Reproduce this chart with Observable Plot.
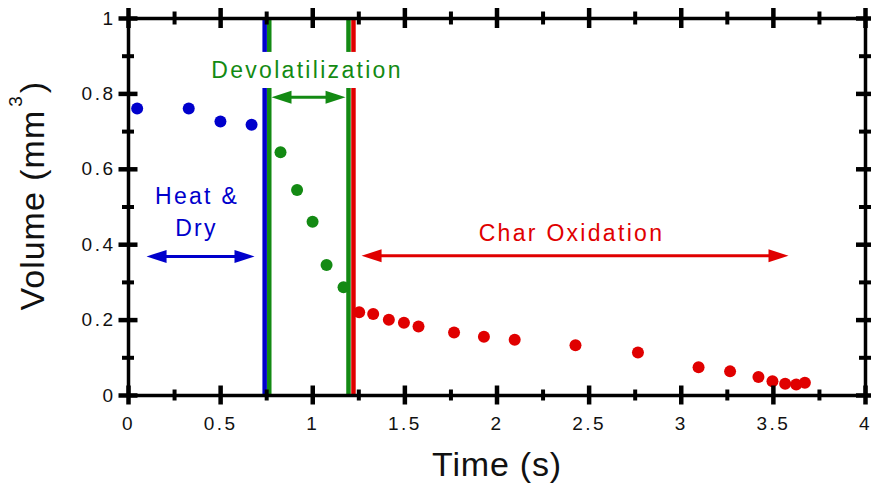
<!DOCTYPE html>
<html><head><meta charset="utf-8">
<script src="https://cdn.jsdelivr.net/npm/d3@7"></script>
<script src="https://cdn.jsdelivr.net/npm/@observablehq/plot@0.6"></script>
<style>body{margin:0;background:#fff} svg{display:block}</style>
</head><body><div id="chart"></div><script>
// ---- data ----
const heatTime = [0.047, 0.327, 0.499, 0.668];
const heatVol  = [0.761, 0.761, 0.727, 0.718];
const devolTime = [0.825, 0.915, 0.999, 1.075, 1.167];
const devolVol  = [0.645, 0.545, 0.461, 0.346, 0.287];
const charTime = [1.252, 1.328, 1.413, 1.495, 1.574, 1.767, 1.929, 2.096, 2.426, 2.765, 3.094, 3.265, 3.419, 3.495, 3.564, 3.624, 3.671];
const charVol  = [0.221, 0.216, 0.201, 0.193, 0.183, 0.167, 0.156, 0.148, 0.133, 0.114, 0.075, 0.064, 0.049, 0.038, 0.031, 0.029, 0.034];

const phaseColors = {heat: "#0000cc", devol: "#138a13", char: "#e00000"};
const boundaryX = [0.739, 0.764, 1.194, 1.221];
const boundaryPhase = ["heat", "devol", "devol", "char"];
const labelGap = [0.814, 0.91];

const xMajor = [0, 0.5, 1, 1.5, 2, 2.5, 3, 3.5, 4];
const xMinor = [0.25, 0.75, 1.25, 1.75, 2.25, 2.75, 3.25, 3.75];
const yMajor = [0, 0.2, 0.4, 0.6, 0.8, 1];
const yMinor = [0.1, 0.3, 0.5, 0.7, 0.9];

const phaseLabels = ["Heat &", "Dry", "Devolatilization", "Char Oxidation"];
const labelX = [0.372, 0.369, 0.969, 2.404];
const labelY = [0.507, 0.424, 0.843, 0.409];
const labelPhase = ["heat", "heat", "devol", "char"];

const arrowStart = [0.098, 0.776, 1.265];
const arrowEnd   = [0.684, 1.178, 3.582];
const arrowY     = [0.369, 0.791, 0.371];
const arrowPhase = ["heat", "devol", "char"];

const xTitle = "Time (s)";
const yTitleMain = "Volume (mm", yTitleSup = "3", yTitleEnd = ")";

// ---- build tables ----
const points = [
  ...heatTime.map((t, i) => ({t, v: heatVol[i], phase: "heat"})),
  ...devolTime.map((t, i) => ({t, v: devolVol[i], phase: "devol"})),
  ...charTime.map((t, i) => ({t, v: charVol[i], phase: "char"}))
];
const segments = [];
boundaryX.forEach((x, i) => {
  segments.push({x, y1: 0, y2: labelGap[0], phase: boundaryPhase[i]});
  segments.push({x, y1: labelGap[1], y2: 1, phase: boundaryPhase[i]});
});
const labels = phaseLabels.map((text, i) => ({text, x: labelX[i], y: labelY[i], phase: labelPhase[i]}));
const arrows = arrowStart.map((s, i) => ({x1: s, x2: arrowEnd[i], y: arrowY[i], phase: arrowPhase[i]}));

const col = d => phaseColors[d.phase];

// arrowhead symbols
const headRight = {draw(c, s) { const r = Math.sqrt(s / Math.PI); c.moveTo(0, 0); c.lineTo(-2 * r, -0.65 * r); c.lineTo(-2 * r, 0.65 * r); c.closePath(); }};
const headLeft = {draw(c, s) { const r = Math.sqrt(s / Math.PI); c.moveTo(0, 0); c.lineTo(2 * r, -0.65 * r); c.lineTo(2 * r, 0.65 * r); c.closePath(); }};

// tick marks crossing the frame (pixel lengths via negative insets)
const xTick = (vals, yv, len, w) => Plot.ruleX(vals, {x: d => d, y1: () => yv, y2: () => yv, insetTop: -len, insetBottom: -len, stroke: "black", strokeWidth: w});
const yTick = (vals, xv, len, w) => Plot.ruleY(vals, {y: d => d, x1: () => xv, x2: () => xv, insetLeft: -len, insetRight: -len, stroke: "black", strokeWidth: w});

const svg = Plot.plot({
  width: 871, height: 483,
  marginLeft: 128, marginRight: 6, marginTop: 18, marginBottom: 88,
  x: {domain: [0, 4]},
  y: {domain: [0, 1]},
  style: {fontFamily: "'Liberation Sans', Arial, sans-serif", background: "white", color: "#111"},
  marks: [
    Plot.ruleX(segments, {x: "x", y1: "y1", y2: "y2", stroke: col, strokeWidth: 4.5}),
    Plot.dot(points, {x: "t", y: "v", r: 6, fill: col, stroke: "none"}),
    Plot.ruleY(arrows, {x1: "x1", x2: "x2", y: "y", stroke: col, strokeWidth: 3, insetLeft: 10, insetRight: 10}),
    Plot.dot(arrows, {x: "x1", y: "y", symbol: headLeft, r: 10, fill: col, stroke: "none"}),
    Plot.dot(arrows, {x: "x2", y: "y", symbol: headRight, r: 10, fill: col, stroke: "none"}),
    Plot.text(labels, {x: "x", y: "y", text: "text", fill: col, fontSize: 23, lineAnchor: "bottom", textAnchor: "middle"}),
    Plot.frame({stroke: "black", strokeWidth: 3.5}),
    xTick(xMajor, 0, 9.5, 4.5),
    xTick(xMinor, 0, 5.5, 4),
    xTick(xMajor, 1, 10, 4.5),
    xTick(xMinor, 1, 6.5, 4),
    yTick(yMajor, 0, 9.5, 4.5),
    yTick(yMinor, 0, 6, 4),
    yTick(yMajor, 4, 9, 4.5),
    yTick(yMinor, 4, 6, 4),
    Plot.axisX(xMajor, {anchor: "bottom", tickSize: 0, tickPadding: 21, fontSize: 19, label: null, tickFormat: d => String(d), fill: "#111"}),
    Plot.axisY(yMajor, {anchor: "left", tickSize: 0, tickPadding: 13, fontSize: 19, label: null, tickFormat: d => String(d), fill: "#111"}),
    Plot.text([xTitle], {x: () => 2, y: () => 0, text: d => d, dy: 80, lineAnchor: "bottom", fontSize: 34, fill: "#111"}),
    Plot.text([yTitleMain + yTitleSup + yTitleEnd], {x: () => 0, y: () => 0.53, text: d => d, dx: -85, rotate: -90, lineAnchor: "bottom", fontSize: 34, fill: "#111"})
  ]
});

// letter spacing and superscript
svg.querySelectorAll("text").forEach(t => {
  const s = t.textContent;
  if (phaseLabels.includes(s)) t.setAttribute("letter-spacing", "2.3");
  else if (xMajor.map(String).includes(s) || yMajor.map(String).includes(s)) t.setAttribute("letter-spacing", "2.5");
  else if (s === xTitle) t.setAttribute("letter-spacing", "0.8");
  else if (s === yTitleMain + yTitleSup + yTitleEnd) {
    t.setAttribute("letter-spacing", "1");
    t.textContent = "";
    const ns = "http://www.w3.org/2000/svg";
    const a = document.createElementNS(ns, "tspan"); a.textContent = yTitleMain;
    const b = document.createElementNS(ns, "tspan"); b.textContent = yTitleSup; b.setAttribute("font-size", "19"); b.setAttribute("dy", "-22"); b.setAttribute("dx", "3");
    const c = document.createElementNS(ns, "tspan"); c.textContent = yTitleEnd; c.setAttribute("dy", "22"); c.setAttribute("dx", "2");
    t.append(a, b, c);
  }
});
document.getElementById("chart").appendChild(svg);
</script></body></html>
